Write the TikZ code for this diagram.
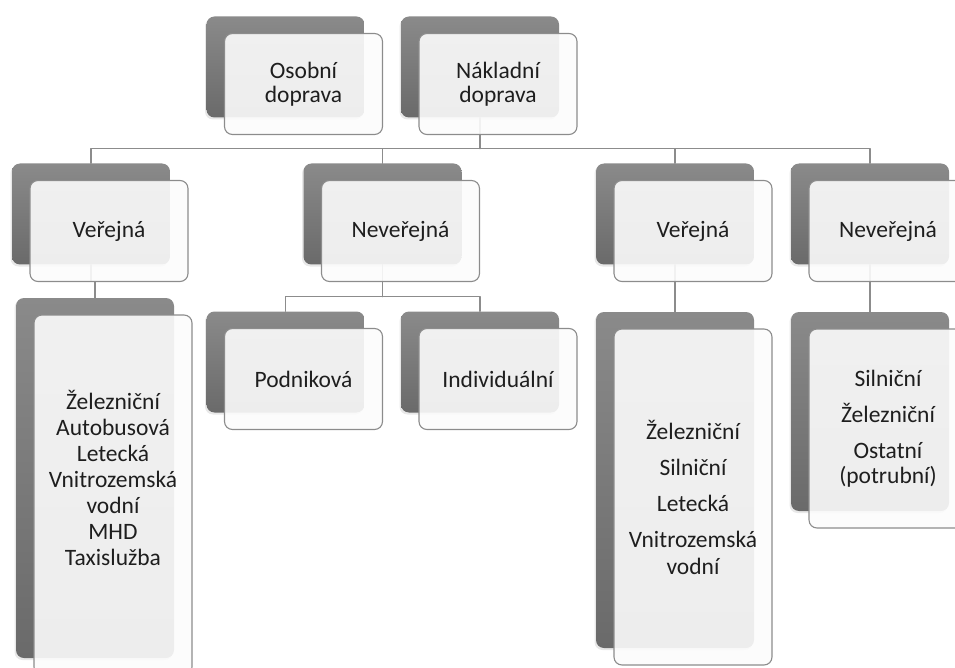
\documentclass[tikz,border=0pt]{standalone}
\usepackage{fontspec}
\setmainfont{Carlito}
\usepackage{xcolor}
\usetikzlibrary{shadows}
\definecolor{backtop}{RGB}{138,138,138}
\definecolor{backbot}{RGB}{106,106,106}
\definecolor{edgegray}{RGB}{140,140,140}
\definecolor{frontfill}{RGB}{252,252,252}
\definecolor{txtgray}{RGB}{30,30,30}
\begin{document}
\begin{tikzpicture}[line cap=round,line join=round,x=1pt,y=-1pt,
        backbox/.style={rectangle,rounded corners=8pt,minimum width=158pt,minimum height=101pt,inner sep=0pt,
            top color=backtop,bottom color=backbot,
            drop shadow={shadow xshift=-1.5pt,shadow yshift=-2pt,opacity=0.18}},
        frontbox/.style={rectangle,rounded corners=8pt,minimum width=158pt,minimum height=101pt,inner sep=0pt,
            draw=edgegray,line width=1.1pt,fill=frontfill,fill opacity=0.9,text opacity=1,
            text=txtgray,align=center,font=\fontsize{23.5}{24}\selectfont},
        itemtext/.style={inner sep=0pt,text=txtgray,align=center,font=\fontsize{23.5}{26}\selectfont},
        conn/.style={draw=edgegray,line width=1.2pt}]
                \useasboundingbox (0,0) rectangle (955,668);
                \clip (0,0) rectangle (955,668);
                % back plates
                \node[backbox] (osob) at (285.5,67) {};
                \node[backbox] (nakl) at (480,67) {};
                \node[backbox] (ver1) at (91,214) {};
                \node[backbox] (nev1) at (382.5,214) {};
                \node[backbox] (ver2) at (675,214) {};
                \node[backbox] (nev2) at (870,214) {};
                \node[backbox,minimum height=360pt] (os1) at (95,478) {};
                \node[backbox] (podn) at (285.5,362) {};
                \node[backbox] (indi) at (480,362) {};
                \node[backbox,minimum height=336pt] (nk1) at (675,480) {};
                \node[backbox,minimum height=199pt] (nk2) at (870,411.5) {};
                % connectors
                \draw[conn] (nakl.south) -- ++(0,31) coordinate (hub);
                \draw[conn] (hub) -| (ver1.north);
                \draw[conn] (hub) -| (nev1.north);
                \draw[conn] (hub) -| (ver2.north);
                \draw[conn] (hub) -| (nev2.north);
                \draw[conn] (ver1.south) -- ++(0,17) -| (os1.north);
                \draw[conn] (nev1.south) -- ++(0,32) coordinate (hubb);
                \draw[conn] (hubb) -| (podn.north);
                \draw[conn] (hubb) -| (indi.north);
                \draw[conn] (ver2.south) -- (nk1.north);
                \draw[conn] (nev2.south) -- (nk2.north);
                % front cards
                \node[frontbox] (osobF) at (303.5,84) {Osobní\\doprava};
                \node[frontbox] (naklF) at (498,84) {Nákladní\\doprava};
                \node[frontbox] (ver1F) at (109,231) {Veřejná};
                \node[frontbox] (nev1F) at (400.5,231) {Neveřejná};
                \node[frontbox] (ver2F) at (693,231) {Veřejná};
                \node[frontbox] (nev2F) at (888,231) {Neveřejná};
                \node[frontbox,minimum height=360pt] (os1F) at (113,495) {};
                \node[itemtext] (os1txt) at (113,478) {Železniční\\Autobusová\\Letecká\\Vnitrozemská\\vodní\\MHD\\Taxislužba};
                \node[frontbox] (podnF) at (303.5,379) {Podniková};
                \node[frontbox] (indiF) at (498,379) {Individuální};
                \node[frontbox,minimum height=336pt,font=\fontsize{23.5}{27}\selectfont] (nk1F) at (693,497) {Železniční\\[9pt]Silniční\\[9pt]Letecká\\[9pt]Vnitrozemská\\vodní};
                \node[frontbox,minimum height=199pt,font=\fontsize{23.5}{25}\selectfont] (nk2F) at (888,428.5) {Silniční\\[11pt]Železniční\\[11pt]Ostatní\\(potrubní)};
\end{tikzpicture}
\end{document}
